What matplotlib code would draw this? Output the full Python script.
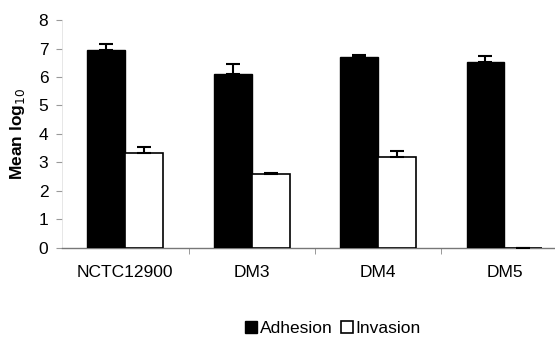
import matplotlib.pyplot as plt
import numpy as np

categories = ['NCTC12900', 'DM3', 'DM4', 'DM5']
adhesion = [6.95, 6.1, 6.72, 6.52]
adhesion_err = [0.2, 0.35, 0.04, 0.22]
invasion = [3.32, 2.58, 3.18, 0.0]
invasion_err = [0.22, 0.05, 0.22, 0.0]

plt.rcParams['font.family'] = ['Liberation Sans', 'DejaVu Sans']

fig = plt.figure(figsize=(5.55, 3.4), dpi=100)
ax = fig.add_axes([0.112, 0.271, 0.888, 0.67])

x = np.arange(len(categories))
w = 0.3
ax.bar(x - w / 2, adhesion, w, color='black', edgecolor='black', linewidth=1,
       yerr=[np.zeros(4), adhesion_err], error_kw=dict(ecolor='black', capsize=5, elinewidth=1.5, capthick=1.5),
       label='Adhesion', zorder=3)
ax.bar(x + w / 2, invasion, w, color='white', edgecolor='black', linewidth=1.2,
       yerr=[np.zeros(4), invasion_err], error_kw=dict(ecolor='black', capsize=5, elinewidth=1.5, capthick=1.5),
       label='Invasion', zorder=3)

ax.set_xlim(-0.5, 3.4)
ax.set_ylim(0, 8)
ax.set_yticks(range(0, 9))
ax.set_xticks(x)
ax.set_xticklabels(categories, fontsize=12.5)
ax.tick_params(axis='x', length=0, pad=12)
ax.set_xticks([0.5, 1.5, 2.5], minor=True)
ax.tick_params(axis='x', which='minor', length=4, color='#888888', direction='out')
ax.tick_params(axis='y', labelsize=12.5, length=4, color='#999999', pad=6)
ax.set_ylabel('Mean log$_{10}$', fontsize=12.5, fontweight='bold', labelpad=8)

for s in ['top', 'right']:
    ax.spines[s].set_visible(False)
ax.spines['left'].set_color('#dddddd')
ax.spines['left'].set_linewidth(0.5)
ax.spines['bottom'].set_color('#777777')
ax.spines['bottom'].set_linewidth(1)

fig.legend(loc='lower center', bbox_to_anchor=(0.6, -0.035), ncol=2, frameon=False,
           fontsize=12.5, handlelength=0.7, handleheight=0.7, handletextpad=0.15, columnspacing=0.5)

fig.savefig('out.png', dpi=100)
